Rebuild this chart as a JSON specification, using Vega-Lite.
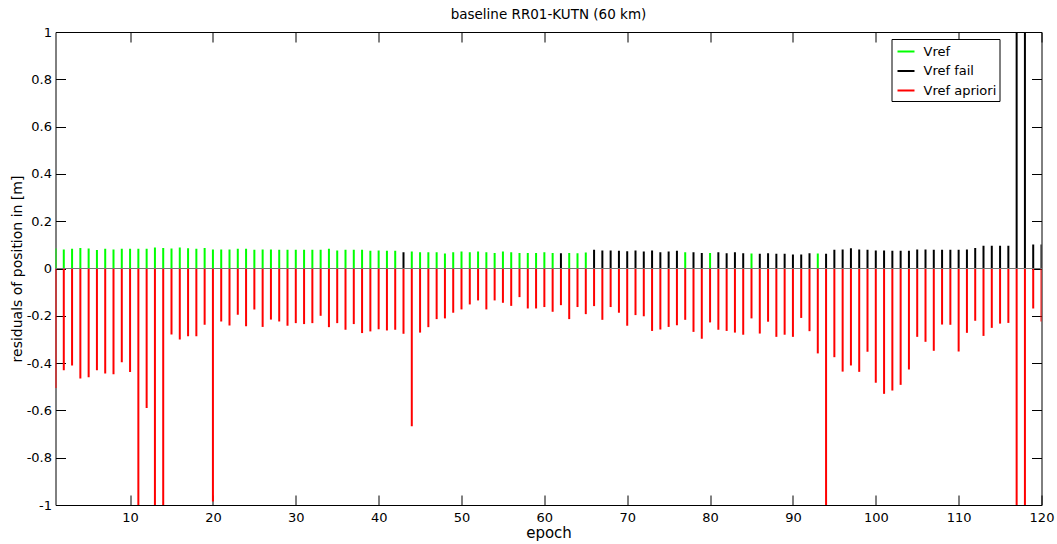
{
"$schema":"https://vega.github.io/schema/vega-lite/v6.json",
"width":986,"height":473,
"autosize":{"type":"none"},
"padding":{"left":55.5,"top":32,"right":15.5,"bottom":39},
"background":"white",
"config":{"font":"DejaVu Sans","view":{"stroke":"black","strokeWidth":1},
 "axis":{"domain":false,"grid":false,"tickColor":"black","tickWidth":1,"labelColor":"black","titleColor":"black","labelFont":"DejaVu Sans","titleFont":"DejaVu Sans","labelFontSize":13,"titleFontWeight":"normal","labelFlush":false,"labelOverlap":false,"labelBound":false}},
"title":{"text":"baseline RR01-KUTN (60 km)","fontSize":13.5,"fontWeight":"normal","color":"black","font":"DejaVu Sans","offset":5,"anchor":"middle"},
"data":{"values":[
{"e":1,"v":0.085,"t":"Vref"},{"e":2,"v":0.08,"t":"Vref"},{"e":3,"v":0.083,"t":"Vref"},{"e":4,"v":0.087,"t":"Vref"},{"e":5,"v":0.085,"t":"Vref"},{"e":6,"v":0.078,"t":"Vref"},{"e":7,"v":0.083,"t":"Vref"},{"e":8,"v":0.08,"t":"Vref"},{"e":9,"v":0.083,"t":"Vref"},{"e":10,"v":0.083,"t":"Vref"},
{"e":11,"v":0.083,"t":"Vref"},{"e":12,"v":0.083,"t":"Vref"},{"e":13,"v":0.089,"t":"Vref"},{"e":14,"v":0.087,"t":"Vref"},{"e":15,"v":0.085,"t":"Vref"},{"e":16,"v":0.089,"t":"Vref"},{"e":17,"v":0.086,"t":"Vref"},{"e":18,"v":0.083,"t":"Vref"},{"e":19,"v":0.087,"t":"Vref"},{"e":20,"v":0.08,"t":"Vref"},
{"e":21,"v":0.08,"t":"Vref"},{"e":22,"v":0.08,"t":"Vref"},{"e":23,"v":0.083,"t":"Vref"},{"e":24,"v":0.083,"t":"Vref"},{"e":25,"v":0.079,"t":"Vref"},{"e":26,"v":0.08,"t":"Vref"},{"e":27,"v":0.08,"t":"Vref"},{"e":28,"v":0.079,"t":"Vref"},{"e":29,"v":0.079,"t":"Vref"},{"e":30,"v":0.079,"t":"Vref"},
{"e":31,"v":0.079,"t":"Vref"},{"e":32,"v":0.079,"t":"Vref"},{"e":33,"v":0.079,"t":"Vref"},{"e":34,"v":0.083,"t":"Vref"},{"e":35,"v":0.076,"t":"Vref"},{"e":36,"v":0.079,"t":"Vref"},{"e":37,"v":0.079,"t":"Vref"},{"e":38,"v":0.079,"t":"Vref"},{"e":39,"v":0.075,"t":"Vref"},{"e":40,"v":0.076,"t":"Vref"},
{"e":41,"v":0.075,"t":"Vref"},{"e":42,"v":0.075,"t":"Vref"},{"e":43,"v":0.069,"t":"Vref fail"},{"e":44,"v":0.072,"t":"Vref"},{"e":45,"v":0.069,"t":"Vref"},{"e":46,"v":0.069,"t":"Vref"},{"e":47,"v":0.069,"t":"Vref"},{"e":48,"v":0.063,"t":"Vref"},{"e":49,"v":0.069,"t":"Vref"},{"e":50,"v":0.072,"t":"Vref"},
{"e":51,"v":0.069,"t":"Vref"},{"e":52,"v":0.072,"t":"Vref"},{"e":53,"v":0.069,"t":"Vref"},{"e":54,"v":0.066,"t":"Vref"},{"e":55,"v":0.072,"t":"Vref"},{"e":56,"v":0.069,"t":"Vref"},{"e":57,"v":0.066,"t":"Vref"},{"e":58,"v":0.066,"t":"Vref"},{"e":59,"v":0.066,"t":"Vref"},{"e":60,"v":0.069,"t":"Vref"},
{"e":61,"v":0.066,"t":"Vref"},{"e":62,"v":0.065,"t":"Vref fail"},{"e":63,"v":0.066,"t":"Vref"},{"e":64,"v":0.065,"t":"Vref"},{"e":65,"v":0.068,"t":"Vref"},{"e":66,"v":0.079,"t":"Vref fail"},{"e":67,"v":0.076,"t":"Vref fail"},{"e":68,"v":0.076,"t":"Vref fail"},{"e":69,"v":0.075,"t":"Vref fail"},{"e":70,"v":0.073,"t":"Vref fail"},
{"e":71,"v":0.076,"t":"Vref fail"},{"e":72,"v":0.072,"t":"Vref fail"},{"e":73,"v":0.076,"t":"Vref fail"},{"e":74,"v":0.069,"t":"Vref fail"},{"e":75,"v":0.072,"t":"Vref fail"},{"e":76,"v":0.075,"t":"Vref fail"},{"e":77,"v":0.069,"t":"Vref"},{"e":78,"v":0.069,"t":"Vref fail"},{"e":79,"v":0.066,"t":"Vref fail"},{"e":80,"v":0.066,"t":"Vref"},
{"e":81,"v":0.069,"t":"Vref fail"},{"e":82,"v":0.065,"t":"Vref fail"},{"e":83,"v":0.069,"t":"Vref fail"},{"e":84,"v":0.065,"t":"Vref fail"},{"e":85,"v":0.063,"t":"Vref"},{"e":86,"v":0.062,"t":"Vref fail"},{"e":87,"v":0.065,"t":"Vref fail"},{"e":88,"v":0.062,"t":"Vref fail"},{"e":89,"v":0.062,"t":"Vref fail"},{"e":90,"v":0.059,"t":"Vref fail"},
{"e":91,"v":0.059,"t":"Vref fail"},{"e":92,"v":0.065,"t":"Vref fail"},{"e":93,"v":0.063,"t":"Vref"},{"e":94,"v":0.062,"t":"Vref fail"},{"e":95,"v":0.079,"t":"Vref fail"},{"e":96,"v":0.08,"t":"Vref fail"},{"e":97,"v":0.086,"t":"Vref fail"},{"e":98,"v":0.08,"t":"Vref fail"},{"e":99,"v":0.079,"t":"Vref fail"},{"e":100,"v":0.076,"t":"Vref fail"},
{"e":101,"v":0.076,"t":"Vref fail"},{"e":102,"v":0.075,"t":"Vref fail"},{"e":103,"v":0.075,"t":"Vref fail"},{"e":104,"v":0.075,"t":"Vref fail"},{"e":105,"v":0.08,"t":"Vref fail"},{"e":106,"v":0.08,"t":"Vref fail"},{"e":107,"v":0.079,"t":"Vref fail"},{"e":108,"v":0.079,"t":"Vref fail"},{"e":109,"v":0.079,"t":"Vref fail"},{"e":110,"v":0.079,"t":"Vref fail"},
{"e":111,"v":0.08,"t":"Vref fail"},{"e":112,"v":0.087,"t":"Vref fail"},{"e":113,"v":0.096,"t":"Vref fail"},{"e":114,"v":0.096,"t":"Vref fail"},{"e":115,"v":0.096,"t":"Vref fail"},{"e":116,"v":0.096,"t":"Vref fail"},{"e":117,"v":1.5,"t":"Vref fail"},{"e":118,"v":1.5,"t":"Vref fail"},{"e":119,"v":0.101,"t":"Vref fail"},{"e":120,"v":0.101,"t":"Vref fail"},
{"e":1,"v":-0.505,"t":"Vref apriori"},{"e":2,"v":-0.43,"t":"Vref apriori"},{"e":3,"v":-0.41,"t":"Vref apriori"},{"e":4,"v":-0.465,"t":"Vref apriori"},{"e":5,"v":-0.46,"t":"Vref apriori"},{"e":6,"v":-0.43,"t":"Vref apriori"},{"e":7,"v":-0.444,"t":"Vref apriori"},{"e":8,"v":-0.447,"t":"Vref apriori"},{"e":9,"v":-0.396,"t":"Vref apriori"},{"e":10,"v":-0.438,"t":"Vref apriori"},
{"e":11,"v":-1.5,"t":"Vref apriori"},{"e":12,"v":-0.59,"t":"Vref apriori"},{"e":13,"v":-1.5,"t":"Vref apriori"},{"e":14,"v":-1.5,"t":"Vref apriori"},{"e":15,"v":-0.279,"t":"Vref apriori"},{"e":16,"v":-0.3,"t":"Vref apriori"},{"e":17,"v":-0.286,"t":"Vref apriori"},{"e":18,"v":-0.286,"t":"Vref apriori"},{"e":19,"v":-0.238,"t":"Vref apriori"},{"e":20,"v":-0.985,"t":"Vref apriori"},
{"e":21,"v":-0.224,"t":"Vref apriori"},{"e":22,"v":-0.241,"t":"Vref apriori"},{"e":23,"v":-0.196,"t":"Vref apriori"},{"e":24,"v":-0.244,"t":"Vref apriori"},{"e":25,"v":-0.173,"t":"Vref apriori"},{"e":26,"v":-0.247,"t":"Vref apriori"},{"e":27,"v":-0.216,"t":"Vref apriori"},{"e":28,"v":-0.224,"t":"Vref apriori"},{"e":29,"v":-0.242,"t":"Vref apriori"},{"e":30,"v":-0.231,"t":"Vref apriori"},
{"e":31,"v":-0.235,"t":"Vref apriori"},{"e":32,"v":-0.231,"t":"Vref apriori"},{"e":33,"v":-0.2,"t":"Vref apriori"},{"e":34,"v":-0.248,"t":"Vref apriori"},{"e":35,"v":-0.231,"t":"Vref apriori"},{"e":36,"v":-0.259,"t":"Vref apriori"},{"e":37,"v":-0.235,"t":"Vref apriori"},{"e":38,"v":-0.273,"t":"Vref apriori"},{"e":39,"v":-0.266,"t":"Vref apriori"},{"e":40,"v":-0.257,"t":"Vref apriori"},
{"e":41,"v":-0.262,"t":"Vref apriori"},{"e":42,"v":-0.259,"t":"Vref apriori"},{"e":43,"v":-0.276,"t":"Vref apriori"},{"e":44,"v":-0.667,"t":"Vref apriori"},{"e":45,"v":-0.271,"t":"Vref apriori"},{"e":46,"v":-0.248,"t":"Vref apriori"},{"e":47,"v":-0.214,"t":"Vref apriori"},{"e":48,"v":-0.211,"t":"Vref apriori"},{"e":49,"v":-0.187,"t":"Vref apriori"},{"e":50,"v":-0.173,"t":"Vref apriori"},
{"e":51,"v":-0.152,"t":"Vref apriori"},{"e":52,"v":-0.135,"t":"Vref apriori"},{"e":53,"v":-0.173,"t":"Vref apriori"},{"e":54,"v":-0.135,"t":"Vref apriori"},{"e":55,"v":-0.145,"t":"Vref apriori"},{"e":56,"v":-0.158,"t":"Vref apriori"},{"e":57,"v":-0.121,"t":"Vref apriori"},{"e":58,"v":-0.169,"t":"Vref apriori"},{"e":59,"v":-0.169,"t":"Vref apriori"},{"e":60,"v":-0.163,"t":"Vref apriori"},
{"e":61,"v":-0.183,"t":"Vref apriori"},{"e":62,"v":-0.155,"t":"Vref apriori"},{"e":63,"v":-0.214,"t":"Vref apriori"},{"e":64,"v":-0.163,"t":"Vref apriori"},{"e":65,"v":-0.193,"t":"Vref apriori"},{"e":66,"v":-0.159,"t":"Vref apriori"},{"e":67,"v":-0.217,"t":"Vref apriori"},{"e":68,"v":-0.163,"t":"Vref apriori"},{"e":69,"v":-0.187,"t":"Vref apriori"},{"e":70,"v":-0.242,"t":"Vref apriori"},
{"e":71,"v":-0.197,"t":"Vref apriori"},{"e":72,"v":-0.202,"t":"Vref apriori"},{"e":73,"v":-0.264,"t":"Vref apriori"},{"e":74,"v":-0.258,"t":"Vref apriori"},{"e":75,"v":-0.247,"t":"Vref apriori"},{"e":76,"v":-0.24,"t":"Vref apriori"},{"e":77,"v":-0.217,"t":"Vref apriori"},{"e":78,"v":-0.268,"t":"Vref apriori"},{"e":79,"v":-0.297,"t":"Vref apriori"},{"e":80,"v":-0.228,"t":"Vref apriori"},
{"e":81,"v":-0.259,"t":"Vref apriori"},{"e":82,"v":-0.264,"t":"Vref apriori"},{"e":83,"v":-0.271,"t":"Vref apriori"},{"e":84,"v":-0.28,"t":"Vref apriori"},{"e":85,"v":-0.211,"t":"Vref apriori"},{"e":86,"v":-0.275,"t":"Vref apriori"},{"e":87,"v":-0.225,"t":"Vref apriori"},{"e":88,"v":-0.289,"t":"Vref apriori"},{"e":89,"v":-0.28,"t":"Vref apriori"},{"e":90,"v":-0.289,"t":"Vref apriori"},
{"e":91,"v":-0.209,"t":"Vref apriori"},{"e":92,"v":-0.265,"t":"Vref apriori"},{"e":93,"v":-0.359,"t":"Vref apriori"},{"e":94,"v":-1.5,"t":"Vref apriori"},{"e":95,"v":-0.375,"t":"Vref apriori"},{"e":96,"v":-0.436,"t":"Vref apriori"},{"e":97,"v":-0.41,"t":"Vref apriori"},{"e":98,"v":-0.437,"t":"Vref apriori"},{"e":99,"v":-0.352,"t":"Vref apriori"},{"e":100,"v":-0.483,"t":"Vref apriori"},
{"e":101,"v":-0.53,"t":"Vref apriori"},{"e":102,"v":-0.516,"t":"Vref apriori"},{"e":103,"v":-0.492,"t":"Vref apriori"},{"e":104,"v":-0.427,"t":"Vref apriori"},{"e":105,"v":-0.289,"t":"Vref apriori"},{"e":106,"v":-0.31,"t":"Vref apriori"},{"e":107,"v":-0.348,"t":"Vref apriori"},{"e":108,"v":-0.237,"t":"Vref apriori"},{"e":109,"v":-0.238,"t":"Vref apriori"},{"e":110,"v":-0.351,"t":"Vref apriori"},
{"e":111,"v":-0.272,"t":"Vref apriori"},{"e":112,"v":-0.221,"t":"Vref apriori"},{"e":113,"v":-0.285,"t":"Vref apriori"},{"e":114,"v":-0.251,"t":"Vref apriori"},{"e":115,"v":-0.233,"t":"Vref apriori"},{"e":116,"v":-0.23,"t":"Vref apriori"},{"e":117,"v":-1.5,"t":"Vref apriori"},{"e":118,"v":-1.5,"t":"Vref apriori"},{"e":119,"v":-0.169,"t":"Vref apriori"},{"e":120,"v":-0.224,"t":"Vref apriori"}
]},
"layer":[
 {"mark":{"type":"rule","strokeWidth":2,"clip":true},
  "encoding":{
   "x":{"field":"e","type":"quantitative","scale":{"domain":[1,120],"nice":false,"zero":false},
     "axis":{"orient":"bottom","values":[10,20,30,40,50,60,70,80,90,100,110,120],"tickSize":-10,"labelPadding":16,"title":"epoch","titleFontSize":15,"titlePadding":1}},
   "y":{"field":"v","type":"quantitative","scale":{"domain":[-1,1],"nice":false,"zero":false},
     "axis":{"orient":"left","values":[-1,-0.8,-0.6,-0.4,-0.2,0,0.2,0.4,0.6,0.8,1],"labelExpr":"'' + datum.value","tickSize":-10,"labelPadding":14,"title":"residuals of position in [m]","titleFontSize":14,"titlePadding":2}},
   "y2":{"datum":0},
   "color":{"field":"t","type":"nominal","scale":{"domain":["Vref","Vref fail","Vref apriori"],"range":["#00ff00","#000000","#ff0000"]},
     "legend":{"title":null,"orient":"none","legendX":836,"legendY":7,"symbolType":"stroke","symbolSize":289,"symbolStrokeWidth":2,"labelFontSize":13,"labelFont":"DejaVu Sans","labelColor":"black","labelOffset":8,"padding":3,"symbolOffset":2,"rowPadding":2.5,"strokeColor":"black","fillColor":"white"}}
  }},
 {"mark":{"type":"rule","color":"#777777","strokeWidth":1},"encoding":{"y":{"datum":0,"axis":null}}},
 {"mark":{"type":"rule","opacity":0,"clip":true},
  "encoding":{
   "x":{"field":"e","type":"quantitative","axis":{"orient":"top","values":[10,20,30,40,50,60,70,80,90,100,110,120],"tickSize":-10,"labels":false,"title":null}},
   "y":{"field":"v","type":"quantitative","axis":{"orient":"right","values":[-1,-0.8,-0.6,-0.4,-0.2,0,0.2,0.4,0.6,0.8,1],"tickSize":-10,"labels":false,"title":null}}
  }}
]
}
